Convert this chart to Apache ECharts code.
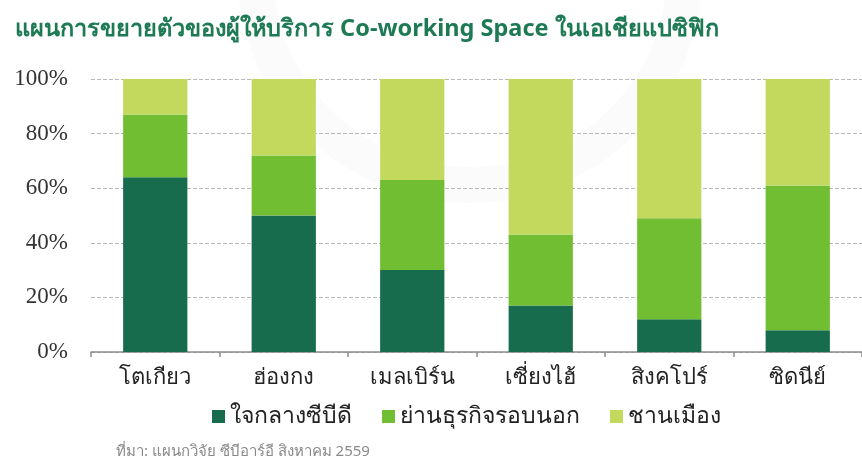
<!DOCTYPE html>
<html>
<head>
<meta charset="utf-8">
<script src="https://cdn.jsdelivr.net/npm/echarts@6/dist/echarts.min.js"></script>
<style>
  html, body { margin: 0; padding: 0; background: #fff; }
  #chart { width: 862px; height: 463px; }
</style>
</head>
<body>
<div id="chart"></div>
<script>
// Cities (x axis)
const cities = ['โตเกียว', 'ฮ่องกง', 'เมลเบิร์น', 'เซี่ยงไฮ้', 'สิงคโปร์', 'ซิดนีย์'];

// Share of co-working space by location (%)
const cbd = [64, 50, 30, 17, 12, 8];        // ใจกลางซีบีดี
const fringe = [23, 22, 33, 26, 37, 53];    // ย่านธุรกิจรอบนอก
const suburb = [13, 28, 37, 57, 51, 39];    // ชานเมือง

const seriesNames = ['ใจกลางซีบีดี', 'ย่านธุรกิจรอบนอก', 'ชานเมือง'];
const yTicks = [0, 20, 40, 60, 80, 100];

const colors = ['#176C4E', '#72BE33', '#C3D95E'];
const thaiFont = '"Noto Sans", "DejaVu Sans", sans-serif';

const chart = echarts.init(document.getElementById('chart'), null, { renderer: 'canvas' });

chart.setOption({
  animation: false,
  backgroundColor: '#ffffff',
  color: colors,
  title: {
    text: 'แผนการขยายตัวของผู้ให้บริการ Co-working Space ในเอเชียแปซิฟิก',
    left: 10,
    top: 12,
    textStyle: { color: '#1E7A55', fontSize: 23.5, fontWeight: 'bold', fontFamily: thaiFont }
  },
  graphic: [
    {
      // faint seal behind the plot
      type: 'circle',
      silent: true,
      z: -10,
      shape: { cx: 470, cy: -30, r: 215 },
      style: { fill: 'none', stroke: 'rgba(0,0,0,0.015)', lineWidth: 36 }
    },
    {
      type: 'text',
      left: 116,
      top: 444,
      style: {
        text: 'ที่มา: แผนกวิจัย ซีบีอาร์อี สิงหาคม 2559',
        fill: '#8a8a8a',
        font: '15px ' + thaiFont
      }
    }
  ],
  legend: {
    left: 207,
    top: 400,
    itemWidth: 13,
    itemHeight: 13,
    itemGap: 30,
    icon: 'rect',
    textStyle: { color: '#222', fontSize: 23, fontFamily: thaiFont },
    data: seriesNames
  },
  grid: { left: 91, right: -8, top: 79, bottom: 111, containLabel: false },
  xAxis: {
    type: 'category',
    data: cities,
    axisLine: { lineStyle: { color: '#8c8c8c', width: 1.5 } },
    axisTick: { show: true, length: 5, lineStyle: { color: '#8c8c8c', width: 1.5 } },
    axisLabel: { color: '#222', fontSize: 22, fontFamily: thaiFont, margin: 15 }
  },
  yAxis: {
    type: 'value',
    min: yTicks[0],
    max: yTicks[yTicks.length - 1],
    interval: yTicks[1] - yTicks[0],
    axisLine: { show: false },
    axisTick: { show: false },
    axisLabel: {
      formatter: '{value}%',
      color: '#333',
      fontSize: 23,
      fontFamily: '"Liberation Serif", "DejaVu Serif", serif',
      margin: 23
    },
    splitLine: { lineStyle: { color: '#b8b8b8', type: [4, 2], width: 1 } }
  },
  series: [
    { name: seriesNames[0], type: 'bar', stack: 'share', data: cbd, barWidth: '50%' },
    { name: seriesNames[1], type: 'bar', stack: 'share', data: fringe, barWidth: '50%' },
    { name: seriesNames[2], type: 'bar', stack: 'share', data: suburb, barWidth: '50%' }
  ]
});
</script>
</body>
</html>
